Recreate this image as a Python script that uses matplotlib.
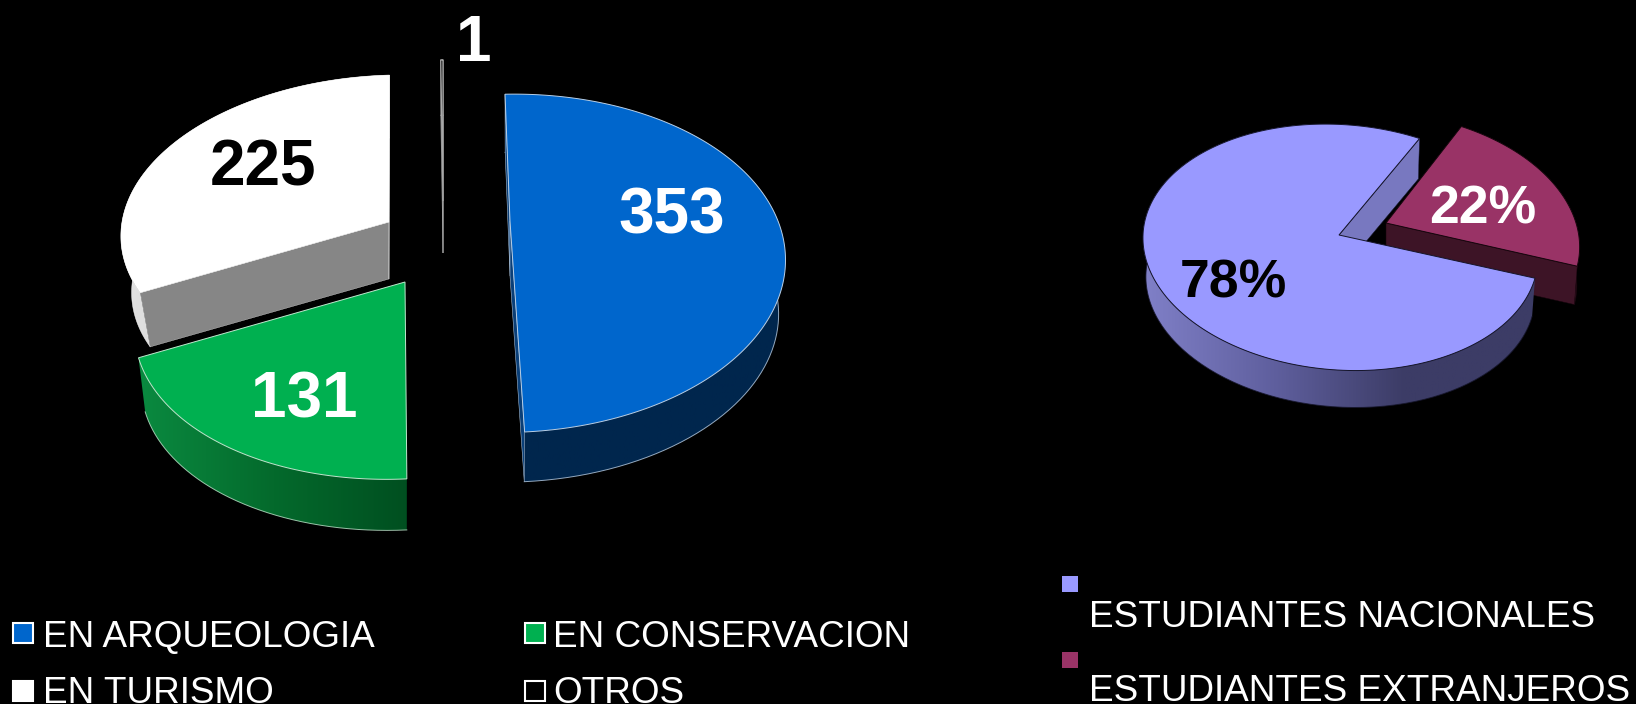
import matplotlib
matplotlib.use('Agg')
import matplotlib.pyplot as plt
import matplotlib.patches as patches
from matplotlib.colors import LinearSegmentedColormap
import numpy as np

plt.rcParams['font.family'] = ['Liberation Sans', 'DejaVu Sans']

# data
left_labels = ['EN ARQUEOLOGIA', 'EN CONSERVACION', 'EN TURISMO', 'OTROS']
left_values = [353, 131, 225, 1]
right_labels = ['ESTUDIANTES NACIONALES', 'ESTUDIANTES EXTRANJEROS']
right_values = [78, 22]

BG = '#000000'
fig = plt.figure(figsize=(16.36, 7.04), dpi=100, facecolor=BG)
ax = fig.add_axes([0, 0, 1, 1])
ax.set_facecolor(BG)


def slice_angles(values, start):
    sweep = np.array(values, dtype=float) / sum(values) * 360
    ends = start - np.cumsum(sweep)
    starts = np.concatenate([[start], ends[:-1]])
    return starts, ends


def rim(a, geo, t, lower=False):
    u, v = np.cos(np.radians(t)), np.sin(np.radians(t))
    w = 1 + geo['k'] * v
    dx = (geo['rx'] * u + geo['s'] * v) / w
    dy = -geo['ry'] * v / w
    if lower:
        return a[0] + geo['sc'] * dx, a[1] + geo['sc'] * dy + geo['d']
    return a[0] + dx, a[1] + dy


def draw_slice(a0, a1, geo, top, wall, cut, edge, lw, z):
    a = geo['apex']
    t = np.linspace(a0, a1, 200)
    xt, yt = rim(a, geo, t)
    xb, yb = rim(a, geo, t, lower=True)
    ab = (a[0], a[1] + geo['d'])

    # outer wall, horizontal gradient clipped to the polygon
    px = np.concatenate([xt, xb[::-1]])
    py = np.concatenate([yt, yb[::-1]])
    poly = patches.Polygon(np.c_[px, py], closed=True, fc='none', ec='none', zorder=z)
    ax.add_patch(poly)
    cmap = LinearSegmentedColormap.from_list('w', wall)
    im = ax.imshow(np.linspace(0, 1, 256).reshape(1, -1), cmap=cmap, aspect='auto',
                   extent=[px.min(), px.max(), py.max(), py.min()], zorder=z)
    im.set_clip_path(poly)
    ax.plot(xb, yb, color=edge, lw=lw, zorder=z + 0.1, alpha=0.8)

    # cut faces, only the ones the viewer can see
    for i in geo['cuts']:
        q = [a, (xt[i], yt[i]), (xb[i], yb[i]), ab]
        ax.add_patch(patches.Polygon(q, closed=True, fc=cut, ec=edge, lw=lw * 0.5, zorder=z + 0.2))

    # top face
    pts = np.vstack([[a], np.c_[xt, yt]])
    ax.add_patch(patches.Polygon(pts, closed=True, fc=top, ec=edge, lw=lw, zorder=z + 0.3))


# --- left pie ---
left_geo = [
    dict(apex=(510, 221), rx=268, ry=158.6, k=0.25, s=5, sc=0.975, d=55, cuts=(0, -1)),
    dict(apex=(405, 282), rx=258, ry=148, k=0.25, s=14, sc=0.975, d=56, cuts=()),
    dict(apex=(389, 222), rx=267, ry=153, k=0.04, s=14, sc=0.96, d=57, cuts=(0, -1)),
    dict(apex=(443, 201), rx=263, ry=147, k=0.04, s=11, sc=0.975, d=52, cuts=(0, -1)),
]
left_style = [
    ('#0066cc', ['#00264d', '#00264d'], '#0a3f78', '#b9cfe6', 0.7, 6),
    ('#00b050', ['#0a8a40', '#046a2c', '#004f20'], '#00602a', '#bfe8cd', 0.7, 7),
    ('#ffffff', ['#e2e2e2', '#bdbdbd'], '#868686', '#ffffff', 0.4, 4),
    ('#000000', ['#333333', '#333333'], '#000000', '#a8a8a8', 0.9, 3),
]
starts, ends = slice_angles(left_values, 92.4)
for a0, a1, geo, st in zip(starts, ends, left_geo, left_style):
    draw_slice(a0, a1, geo, *st)

left_val_pos = [(672, 216), (304, 401), (263, 168), (474, 44)]
left_val_col = ['white', 'white', 'black', 'white']
for val, pos, c in zip(left_values, left_val_pos, left_val_col):
    ax.text(pos[0], pos[1], str(val), fontsize=46, fontweight='bold', color=c,
            ha='center', va='center', zorder=10)

# --- right pie ---
right_geo = [
    dict(apex=(1339, 235), rx=196, ry=122, k=0.1, s=-15, sc=0.985, d=39, cuts=(-1,)),
    dict(apex=(1386, 223), rx=190, ry=122, k=0.1, s=-18, sc=0.985, d=39, cuts=(-1,)),
]
right_style = [
    ('#9999ff', ['#8080c8', '#5f5f9e', '#3c3c66', '#3c3c66'], '#7878c0', '#15152a', 0.7, 6),
    ('#993366', ['#3d1426', '#3d1426'], '#3d1426', '#15050c', 0.7, 3),
]
starts, ends = slice_angles(right_values, -20)
for a0, a1, geo, st in zip(starts, ends, right_geo, right_style):
    draw_slice(a0, a1, geo, *st)

right_val_pos = [(1233, 284), (1483, 209)]
right_val_col = ['black', 'white']
for val, pos, c in zip(right_values, right_val_pos, right_val_col):
    ax.text(pos[0], pos[1], f'{val}%', fontsize=38.5, fontweight='bold', color=c,
            ha='center', va='center', zorder=10)

# --- legends ---
fs = 26.6
left_text_pos = [(43, 647), (553, 647), (43, 703), (553, 703)]
left_swatches = [(13, 623), (525, 623), (13, 681), (525, 681)]
left_fill = ['#0066cc', '#00b050', '#ffffff', '#000000']
for name, tp, sw, col in zip(left_labels, left_text_pos, left_swatches, left_fill):
    ax.add_patch(patches.Rectangle(sw, 20, 20, fc=col, ec='white', lw=1.5, zorder=5))
    ax.text(tp[0], tp[1], name, fontsize=fs, color='white', ha='left', va='baseline', zorder=5)

right_text_pos = [(1089, 627), (1089, 701)]
right_swatches = [(1062, 576), (1062, 652)]
right_fill = ['#9999ff', '#993366']
for name, tp, sw, col in zip(right_labels, right_text_pos, right_swatches, right_fill):
    ax.add_patch(patches.Rectangle(sw, 16, 16, fc=col, ec='none', zorder=5))
    ax.text(tp[0], tp[1], name, fontsize=fs, color='white', ha='left', va='baseline', zorder=5)

ax.set_xlim(0, 1636)
ax.set_ylim(704, 0)
ax.axis('off')

fig.savefig('out.png', dpi=100, facecolor=BG)
